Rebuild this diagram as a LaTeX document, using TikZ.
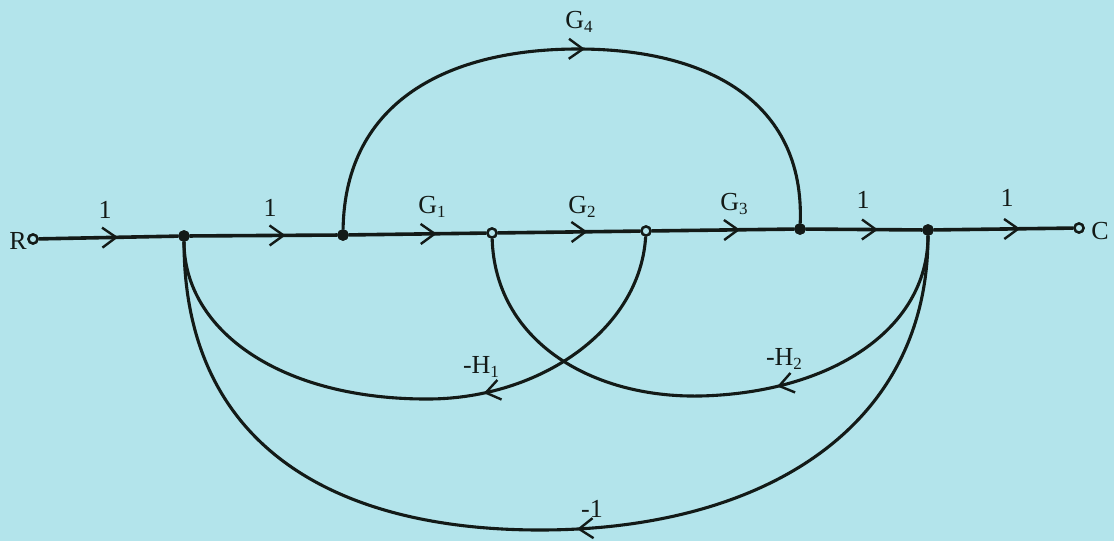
\documentclass[tikz,border=0pt]{standalone}
\usepackage{fontspec}
\setmainfont{Liberation Serif}
\usetikzlibrary{arrows.meta,decorations.markings}
\definecolor{bgc}{HTML}{B3E4EB}
\definecolor{ink}{HTML}{131A17}
\newcommand{\lsub}[1]{\raisebox{-0.3ex}{\fontsize{17}{17}\selectfont #1}}
\begin{document}
\begin{tikzpicture}[x=1pt,y=-1pt,
  sig/.style={draw=ink, line width=3.1pt},
  fwd/.style={draw=ink, line width=3.6pt},
  fa/.style={postaction={decorate}, decoration={markings, mark=at position #1 with {\arrow[ink, line width=2.4pt]{Straight Barb[length=14pt,width=20pt]}}}},
  dot/.style={circle, draw=ink, line width=2.4pt, fill=ink, inner sep=0pt, minimum size=9pt},
  odot/.style={dot, fill=bgc},
  lbl/.style={text=ink, font=\fontsize{26}{28}\selectfont, inner sep=0pt}]
\fill[bgc] (0,0) rectangle (1114,541);
\useasboundingbox (0,0) rectangle (1114,541);
% nodes
\node[odot] (R) at (33,239) {};
\node[dot] (n1) at (184,236) {};
\node[dot] (n2) at (343,235) {};
\node[odot] (n3) at (492,233) {};
\node[odot] (n4) at (646,231) {};
\node[dot] (n5) at (800,229) {};
\node[dot] (n6) at (928,230) {};
\node[odot] (C) at (1079,228) {};
\node[lbl] (lR) at (18,241) {R};
\node[lbl] (lC) at (1100,231) {C};
% forward path
\draw[fwd, fa=0.57] (R) -- (n1);
\draw[fwd, fa=0.65] (n1) -- (n2);
\draw[fwd, fa=0.64] (n2) -- (n3);
\draw[fwd, fa=0.63] (n3) -- (n4);
\draw[fwd, fa=0.62] (n4) -- (n5);
\draw[fwd, fa=0.62] (n5) -- (n6);
\draw[fwd, fa=0.62] (n6) -- (C);
% G4 arc
\draw[sig, fa=0.52] (n2) .. controls (345,100) and (450,49) .. (578,49) .. controls (705,49) and (805,100) .. (n5);
% feedback loops
\draw[sig, fa=0.39] (n4) .. controls (640,330) and (540,398) .. (430,399) .. controls (280,400) and (184,330) .. (n1);
\draw[sig, fa=0.385] (n6) .. controls (928,330) and (830,393) .. (700,396) .. controls (590,398) and (495,340) .. (n3);
\draw[sig, fa=0.478] (n6) .. controls (928,430) and (760,530) .. (540,530) .. controls (340,530) and (184,450) .. (n1);
% redraw dots on top
\foreach \n/\s in {R/odot,n1/dot,n2/dot,n3/odot,n4/odot,n5/dot,n6/dot,C/odot}
  \node[\s] at (\n) {};
% labels
\node[lbl] (l1) at (105,210) {1};
\node[lbl] (l2) at (270,208) {1};
\node[lbl] (lG1) at (432,207) {G\lsub{1}};
\node[lbl] (lG2) at (582,207) {G\lsub{2}};
\node[lbl] (lG3) at (734,204) {G\lsub{3}};
\node[lbl] (l5) at (863,200) {1};
\node[lbl] (l6) at (1007,198) {1};
\node[lbl] (lG4) at (579,22) {G\lsub{4}};
\node[lbl] (lH1) at (481,367) {-H\lsub{1}};
\node[lbl] (lH2) at (784,359) {-H\lsub{2}};
\node[lbl] (lm1) at (592,509) {-1};
\end{tikzpicture}
\end{document}
